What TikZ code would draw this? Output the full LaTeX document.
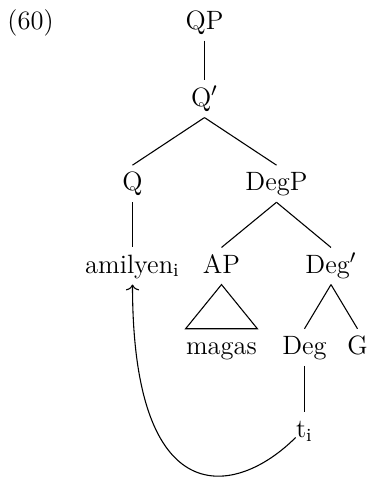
\documentclass[tikz,border=0pt]{standalone}
\usetikzlibrary{arrows.meta}
\begin{document}
\begin{tikzpicture}[x=0.41494pt,y=-0.41494pt,
  every node/.style={font=\fontsize{11}{13}\selectfont},
  lab/.style={anchor=base,inner xsep=0pt,inner ysep=3.2pt,text height=7.2pt,text depth=1.4pt},
  edge/.style={line width=0.45pt},
  mvarrow/.style={line width=0.45pt,-{To[length=2.4pt,width=5.5pt]}}]
\useasboundingbox (0,0) rectangle (369,482);
\node[anchor=base west,inner sep=0pt] (ex) at (7,29) {(60)};
\node[lab] (QP) at (204.5,29) {QP};
\node[lab] (Qb) at (204.5,106) {Q$'$};
\node[lab] (Q) at (132.5,190.7) {Q};
\node[lab] (DegP) at (276.5,190.7) {DegP};
\node[lab] (am) at (132.5,273) {amilyen\textsubscript{i}};
\node[lab] (AP) at (221.5,273) {AP};
\node[lab] (Degb) at (331,273) {Deg$'$};
\node[lab] (magas) at (221.5,354.3) {magas};
\node[lab] (Deg) at (304.5,354.3) {Deg};
\node[lab] (G) at (357.5,354.3) {G};
\node[lab] (t) at (304.5,437.5) {t\textsubscript{i}};
\draw[edge] (QP.south) -- (Qb.north);
\draw[edge] (Qb.south) -- (Q.north);
\draw[edge] (Qb.south) -- (DegP.north);
\draw[edge] (Q.south) -- (am.north);
\draw[edge] (DegP.south) -- (AP.north);
\draw[edge] (DegP.south) -- (Degb.north);
\draw[edge] (AP.south) -- (magas.north west) -- (magas.north east) -- cycle;
\draw[edge] (Degb.south) -- (Deg.north);
\draw[edge] (Degb.south) -- (G.north);
\draw[edge] (Deg.south) -- (t.north);
\draw[mvarrow] (t.base west) .. controls +(-60,60) and +(0,230) .. (am.south);
\end{tikzpicture}
\end{document}
